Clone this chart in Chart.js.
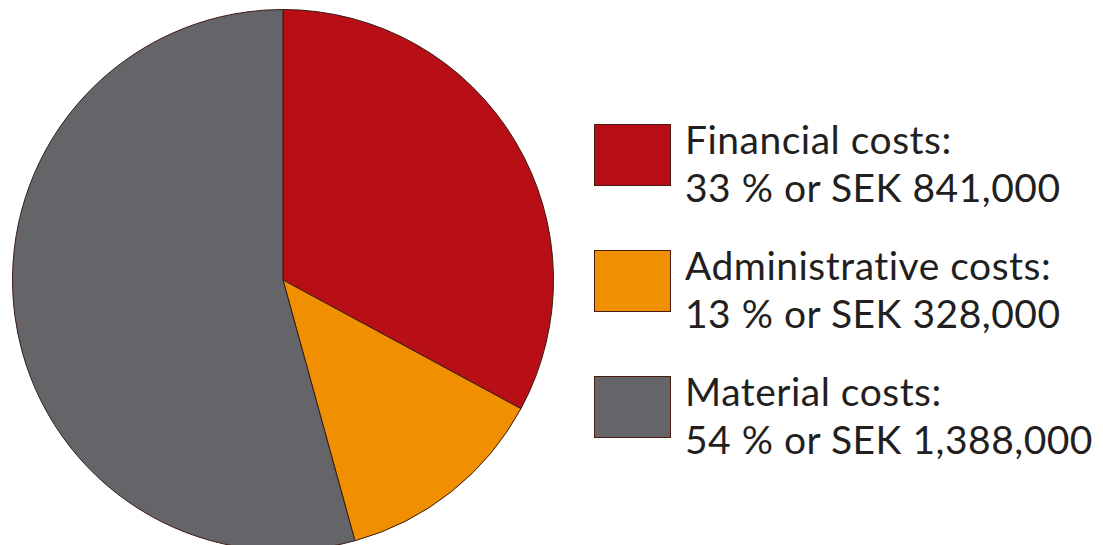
<!DOCTYPE html>
<html>
<head>
<meta charset="utf-8">
<script src="https://cdn.jsdelivr.net/npm/chart.js@4"></script>
<style>
  html, body { margin: 0; padding: 0; background: #fff; overflow: hidden; }
  body { width: 1103px; height: 545px; position: relative; font-family: Lato, "Open Sans", sans-serif; }
  #pieBox { position: absolute; left: 12px; top: 9px; width: 542px; height: 542px; }
  #legend { position: absolute; left: 594px; top: 124px; }
  .item { position: relative; height: 126px; }
  .swatch { position: absolute; left: 0; top: 0; width: 77px; height: 62px; box-sizing: border-box; border: 1px solid #4a1c10; }
  .label { position: absolute; left: 91px; top: -9px; font-size: 39px; letter-spacing: 0.5px; line-height: 48px; color: #231f20; white-space: nowrap; }
</style>
</head>
<body>
<div id="pieBox"><canvas id="pie"></canvas></div>
<div id="legend"></div>
<script>
// data
const categories = ['Financial costs:', 'Administrative costs:', 'Material costs:'];
const amountsSEK = [841000, 328000, 1388000];
const percents = [33, 13, 54];
const sliceColors = ['#b70f15', '#f09000', '#646469'];

// legend built as html next to the pie
const legend = document.getElementById('legend');
categories.forEach((cat, i) => {
  const div = document.createElement('div');
  div.className = 'item';
  div.innerHTML = `<div class="swatch" style="background:${sliceColors[i]}"></div>
    <div class="label">${cat}<br>${percents[i]} % or SEK ${amountsSEK[i].toLocaleString('en-US')}</div>`;
  legend.appendChild(div);
});

new Chart(document.getElementById('pie'), {
  type: 'pie',
  data: {
    labels: categories,
    datasets: [{
      data: amountsSEK,
      backgroundColor: sliceColors,
      borderColor: '#3a1a12',
      borderWidth: 1
    }]
  },
  options: {
    responsive: true,
    maintainAspectRatio: false,
    animation: false,
    layout: { padding: 0 },
    plugins: {
      legend: { display: false },
      tooltip: { enabled: false }
    }
  }
});
</script>
</body>
</html>
